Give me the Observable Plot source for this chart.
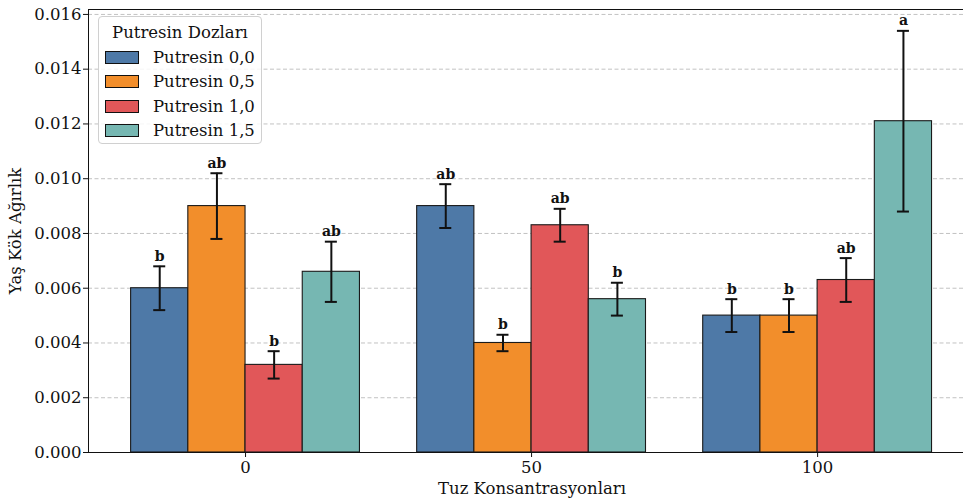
<!DOCTYPE html>
<html>
<head>
<meta charset="utf-8">
<script src="https://cdn.jsdelivr.net/npm/d3@7"></script>
<script src="https://cdn.jsdelivr.net/npm/@observablehq/plot@0.6"></script>
<style>
  html, body { margin: 0; padding: 0; background: white; overflow: hidden; }
  #wrap { position: relative; width: 963px; height: 504px; font-family: "DejaVu Serif", serif; }
  #legend { position: absolute; left: 98px; top: 16px; width: 164px; height: 128px;
    border: 1px solid #d0d0d0; border-radius: 4px; background: rgba(255,255,255,0.85);
    font-size: 16.5px; color: #111; box-sizing: border-box; }
  #legend .title { text-align: center; margin-top: 4px; height: 24px; line-height: 24px; }
  #legend .row { display: flex; align-items: center; height: 24.5px; padding-left: 6px; }
  #legend .sw { width: 32px; height: 11px; border: 1px solid #111; margin-right: 14px; }
</style>
</head>
<body>
<div id="wrap"><div id="legend"></div></div>
<script>
// Categories
const groups = ["0", "50", "100"];
const doses = ["Putresin 0,0", "Putresin 0,5", "Putresin 1,0", "Putresin 1,5"];
const colors = ["#4e79a7", "#f28e2b", "#e15759", "#76b7b2"];

// Means per dose (across salt groups 0, 50, 100)
const mean00 = [0.0060, 0.0090, 0.0050];
const mean05 = [0.0090, 0.0040, 0.0050];
const mean10 = [0.0032, 0.0083, 0.0063];
const mean15 = [0.0066, 0.0056, 0.0121];

// Error half-widths
const err00 = [0.0008, 0.0008, 0.0006];
const err05 = [0.0012, 0.0003, 0.0006];
const err10 = [0.0005, 0.0006, 0.0008];
const err15 = [0.0011, 0.0006, 0.0033];

// Significance letters
const let00 = ["b", "ab", "b"];
const let05 = ["ab", "b", "b"];
const let10 = ["b", "ab", "ab"];
const let15 = ["ab", "b", "a"];

const yTicks = [0, 0.002, 0.004, 0.006, 0.008, 0.010, 0.012, 0.014, 0.016];

const means = [mean00, mean05, mean10, mean15];
const errs = [err00, err05, err10, err15];
const lets = [let00, let05, let10, let15];

const barW = 0.2;
const rows = [];
groups.forEach((g, gi) => {
  doses.forEach((d, di) => {
    const x1 = gi - 0.4 + di * barW;
    const xc = x1 + barW / 2;
    const m = means[di][gi], e = errs[di][gi];
    rows.push({group: g, dose: d, x1, x2: x1 + barW, xc, mean: m, lo: m - e, hi: m + e,
               c1: xc - 0.021, c2: xc + 0.021, letter: lets[di][gi]});
  });
});

const xMin = -0.549, xMax = 2.51, yMax = 0.01618;
const font = "DejaVu Serif";

const chart = Plot.plot({
  width: 963, height: 504,
  marginLeft: 88, marginRight: 0, marginTop: 9, marginBottom: 52,
  x: {domain: [xMin, xMax], axis: null},
  y: {domain: [0, yMax], axis: null},
  color: {domain: doses, range: colors},
  style: {fontFamily: font, background: "white", color: "#111", overflow: "visible"},
  marks: [
    Plot.ruleY(yTicks, {stroke: "#bbbbbb", strokeDasharray: "4,2.5", strokeWidth: 0.9}),
    Plot.rectY(rows, {x1: "x1", x2: "x2", y1: 0, y2: "mean", fill: "dose", stroke: "#1a1a1a", strokeWidth: 1.1}),
    Plot.ruleX(rows, {x: "xc", y1: "lo", y2: "hi", stroke: "#111", strokeWidth: 2}),
    Plot.ruleY(rows, {y: "hi", x1: "c1", x2: "c2", stroke: "#111", strokeWidth: 2}),
    Plot.ruleY(rows, {y: "lo", x1: "c1", x2: "c2", stroke: "#111", strokeWidth: 2}),
    Plot.text(rows, {x: "xc", y: "hi", text: "letter", dy: -10, fontWeight: "bold", fontSize: 14, fill: "#111"}),
    Plot.ruleX([xMin], {stroke: "#111", strokeWidth: 1}),
    Plot.ruleY([0], {stroke: "#111", strokeWidth: 1}),
    Plot.ruleY([yMax], {stroke: "#111", strokeWidth: 1}),
    Plot.axisY(yTicks, {tickFormat: d => d.toFixed(3), fontSize: 16.5, tickSize: 5, tickPadding: 2, label: null}),
    Plot.axisX([0, 1, 2], {tickFormat: i => groups[i], fontSize: 16.5, tickSize: 5, tickPadding: 4, label: null}),
    Plot.text(["Yaş Kök Ağırlık"], {frameAnchor: "left", textAnchor: "middle", dx: -73, rotate: -90, fontSize: 16.5, fill: "#111"}),
    Plot.text(["Tuz Konsantrasyonları"], {frameAnchor: "bottom", dy: 41, dx: 6, fontSize: 16.5, fill: "#111"})
  ]
});
document.getElementById("wrap").prepend(chart);

const legend = document.getElementById("legend");
const t = document.createElement("div");
t.className = "title"; t.textContent = "Putresin Dozları";
legend.appendChild(t);
doses.forEach((d, i) => {
  const r = document.createElement("div"); r.className = "row";
  const s = document.createElement("div"); s.className = "sw"; s.style.background = colors[i];
  const l = document.createElement("span"); l.textContent = d;
  r.appendChild(s); r.appendChild(l); legend.appendChild(r);
});
</script>
</body>
</html>
